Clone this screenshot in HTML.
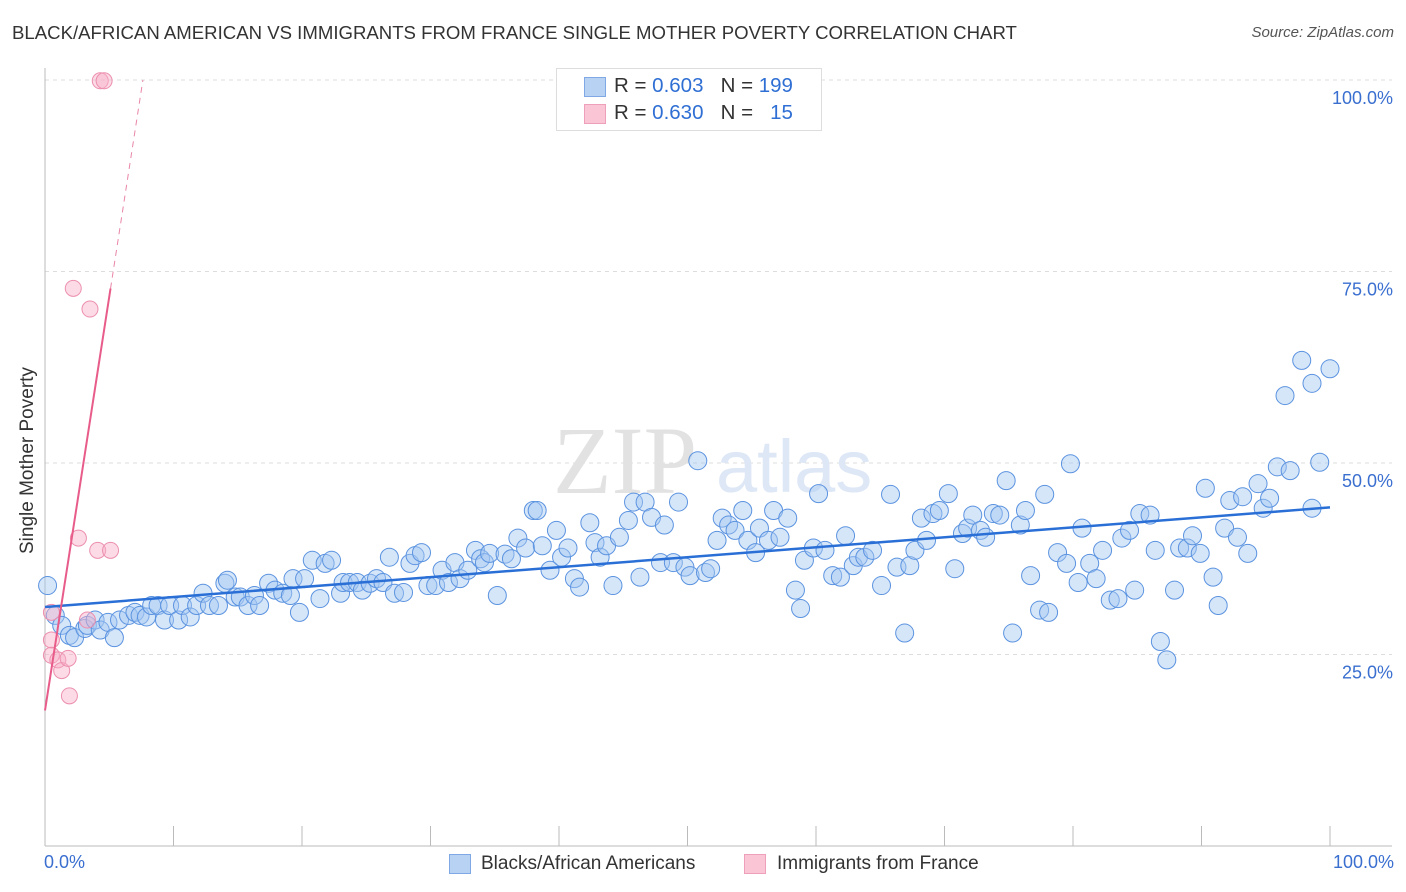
<!DOCTYPE html>
<html><head><meta charset="utf-8">
<style>
body{margin:0;background:#fff;font-family:"Liberation Sans",sans-serif;}
#wrap{position:relative;width:1406px;height:892px;overflow:hidden;}
.t{position:absolute;white-space:nowrap;}
</style></head>
<body>
<div id="wrap">
<div class="t" style="left:12px;top:22px;font-size:18.6px;color:#333;">BLACK/AFRICAN AMERICAN VS IMMIGRANTS FROM FRANCE SINGLE MOTHER POVERTY CORRELATION CHART</div>
<div class="t" style="right:12px;top:24px;font-size:15px;color:#555;font-style:italic;">Source: ZipAtlas.com</div>
<svg id="svg" width="1406" height="892" style="position:absolute;left:0;top:0"></svg>
</div>
<script>
const blueX=[0.2,0.8,1.3,1.9,2.3,3.1,3.3,3.9,4.3,4.9,5.4,5.8,6.5,7.0,7.4,7.9,8.3,8.8,9.3,9.7,10.4,10.7,11.3,11.8,12.3,12.8,13.5,14.0,14.2,14.8,15.2,15.8,16.3,16.7,17.4,17.9,18.5,19.1,19.3,19.8,20.2,20.8,21.4,21.8,22.3,23.0,23.2,23.7,24.3,24.7,25.3,25.8,26.3,26.8,27.2,27.9,28.4,28.8,29.3,29.8,30.4,30.9,31.4,31.9,32.3,32.9,33.5,33.9,34.2,34.6,35.2,35.8,36.3,36.8,37.4,38.0,38.3,38.7,39.3,39.8,40.2,40.7,41.2,41.6,42.4,42.8,43.2,43.7,44.2,44.7,45.4,45.8,46.3,46.7,47.2,47.9,48.2,48.9,49.3,49.8,50.2,50.8,51.4,51.8,52.3,52.7,53.2,53.7,54.3,54.7,55.3,55.6,56.3,56.7,57.2,57.8,58.4,58.8,59.1,59.8,60.2,60.7,61.3,61.9,62.3,62.9,63.3,63.8,64.4,65.1,65.8,66.3,66.9,67.3,67.7,68.2,68.6,69.1,69.6,70.3,70.8,71.4,71.8,72.2,72.8,73.2,73.8,74.3,74.8,75.3,75.9,76.3,76.7,77.4,78.1,77.8,78.8,79.5,79.8,80.4,80.7,81.3,81.8,82.3,82.9,83.5,83.8,84.4,84.8,85.2,86.0,86.4,86.8,87.3,87.9,88.3,88.9,89.3,89.9,90.3,90.9,91.3,91.8,92.2,92.8,93.2,93.6,94.4,94.8,95.3,95.9,96.5,96.9,97.8,98.6,99.2,100.0,98.6];
const blueY=[34.0,30.1,28.8,27.5,27.2,28.4,28.8,29.5,28.2,29.2,27.2,29.5,30.1,30.5,30.1,29.9,31.4,31.4,29.5,31.4,29.5,31.4,29.9,31.4,33.0,31.4,31.4,34.3,34.7,32.5,32.5,31.4,32.7,31.4,34.3,33.4,33.0,32.7,34.9,30.5,34.9,37.3,32.3,36.9,37.3,33.0,34.4,34.4,34.4,33.4,34.3,34.9,34.4,37.7,33.0,33.1,36.9,37.9,38.3,34.0,34.0,36.0,34.4,37.0,34.9,36.0,38.6,37.5,37.0,38.2,32.7,38.1,37.5,40.2,38.9,43.8,43.8,39.2,36.0,41.2,37.7,38.9,34.9,33.8,42.2,39.6,37.7,39.2,34.0,40.3,42.5,44.9,35.1,44.9,42.9,37.0,41.9,37.0,44.9,36.4,35.3,50.3,35.7,36.2,39.9,42.8,41.9,41.2,43.8,39.9,38.3,41.5,39.9,43.8,40.3,42.8,33.4,31.0,37.3,38.9,46.0,38.6,35.3,35.1,40.5,36.6,37.7,37.7,38.6,34.0,45.9,36.4,27.8,36.6,38.6,42.8,39.9,43.4,43.8,46.0,36.2,40.8,41.5,43.2,41.2,40.3,43.4,43.2,47.7,27.8,41.9,43.8,35.3,30.8,30.5,45.9,38.3,36.9,49.9,34.4,41.5,36.9,34.9,38.6,32.1,32.3,40.2,41.2,33.4,43.4,43.2,38.6,26.7,24.3,33.4,38.9,38.9,40.5,38.2,46.7,35.1,31.4,41.5,45.1,40.3,45.6,38.2,47.3,44.1,45.4,49.5,58.8,49.0,63.4,60.4,50.1,62.3,44.1];
const pinkX=[0.5,0.5,0.5,1.0,1.3,1.8,1.9,2.6,2.2,3.5,3.3,4.1,5.1,4.3,4.6];
const pinkY=[30.5,26.9,24.9,24.3,22.9,24.5,19.6,40.2,72.8,70.1,29.5,38.6,38.6,99.9,99.9];
const blueLine=[31.2,44.2]; // value at x=0 and x=100
const pinkLine=[17.7,10.8]; // intercept, slope
const yTicks=[25,50,75,100];
const yTickLabels=["25.0%","50.0%","75.0%","100.0%"];
const xTicks=[0,10,20,30,40,50,60,70,80,90,100];

const L=45,R=1330,T=80,B=846;
const sx=v=>L+(R-L)*v/100;
const sy=v=>B-(B-T)*v/100;
const svg=document.getElementById('svg');
const NS='http://www.w3.org/2000/svg';
function mk(tag,attrs,parent){const e=document.createElementNS(NS,tag);for(const k in attrs)e.setAttribute(k,attrs[k]);(parent||svg).appendChild(e);return e;}

yTicks.forEach((v,i)=>{
  const g=mk('line',{x1:L,x2:1392,y1:sy(v),y2:sy(v),stroke:'#ddd','stroke-dasharray':'4,4','stroke-width':1});
  
  
  const t=mk('text',{x:1393,y:sy(v)+24,'text-anchor':'end','font-size':18,fill:'#3a6fd0','font-family':'Liberation Sans, sans-serif'});
  t.textContent=yTickLabels[i];
  
  
});
const ya=mk('line',{x1:L,x2:L,y1:68,y2:B,stroke:'#bbb','stroke-width':1});


const xa=mk('line',{x1:L,x2:1392,y1:B,y2:B,stroke:'#bbb','stroke-width':1});


xTicks.forEach(v=>{
  const tk=mk('line',{x1:sx(v),x2:sx(v),y1:826,y2:B,stroke:'#bbb','stroke-width':1});
  
  
});
const w1=mk('text',{x:553,y:493,'font-size':96,fill:'#e2e2e2','font-family':'Liberation Serif, serif'});
w1.textContent='ZIP';


const w2=mk('text',{x:716,y:492,'font-size':74,fill:'#dde7f6','font-family':'Liberation Sans, sans-serif'});
w2.textContent='atlas';



blueX.forEach((x,i)=>{
  const c=mk('circle',{cx:sx(x),cy:sy(blueY[i]),r:9,fill:'rgba(165,200,242,0.45)',stroke:'#5b93e0','stroke-width':1});
  
  
});
pinkX.forEach((x,i)=>{
  const c=mk('circle',{cx:sx(x),cy:sy(pinkY[i]),r:8,fill:'rgba(248,176,200,0.45)',stroke:'#ec8fae','stroke-width':1});
  
  
});
const bl=mk('line',{x1:sx(0),y1:sy(blueLine[0]),x2:sx(100),y2:sy(blueLine[1]),stroke:'#2a6fd6','stroke-width':2.5});


const pf=x=>pinkLine[0]+pinkLine[1]*x;
const xEnd=(100-pinkLine[0])/pinkLine[1];
const ps=mk('line',{x1:sx(0),y1:sy(pf(0)),x2:sx(5.1),y2:sy(pf(5.1)),stroke:'#e85c8a','stroke-width':2});


const pd=mk('line',{x1:sx(5.1),y1:sy(pf(5.1)),x2:sx(xEnd),y2:sy(100),stroke:'#e985a8','stroke-width':1,'stroke-dasharray':'6,5'});


</script>
<div class="t" style="left:44px;top:852px;font-size:18px;color:#3a6fd0;">0.0%</div>
<div class="t" style="right:12px;top:852px;font-size:18px;color:#3a6fd0;">100.0%</div>
<div class="t" style="font-size:19px;color:#333;transform:rotate(-90deg);transform-origin:0 0;left:17px;top:554px;">Single Mother Poverty</div>

<div style="position:absolute;left:556px;top:68px;width:264px;height:61px;border:1px solid #ddd;background:#fff;">
  <div style="position:absolute;left:27px;top:8px;width:20px;height:18px;background:#b8d2f4;border:1px solid #7fa8e4;"></div>
  <div class="t" style="left:57px;top:5px;font-size:20.5px;color:#333;">R = <span style="color:#2f6fd4">0.603</span>&nbsp;&nbsp;&nbsp;N = <span style="color:#2f6fd4">199</span></div>
  <div style="position:absolute;left:27px;top:35px;width:20px;height:18px;background:#fac6d6;border:1px solid #eea0ba;"></div>
  <div class="t" style="left:57px;top:32px;font-size:20.5px;color:#333;">R = <span style="color:#2f6fd4">0.630</span>&nbsp;&nbsp;&nbsp;N = &nbsp;&nbsp;<span style="color:#2f6fd4">15</span></div>
</div>

<div style="position:absolute;left:449px;top:854px;width:20px;height:18px;background:#b8d2f4;border:1px solid #7fa8e4;"></div>
<div class="t" style="left:481px;top:853px;font-size:19px;color:#333;">Blacks/African Americans</div>
<div style="position:absolute;left:744px;top:854px;width:20px;height:18px;background:#fac6d6;border:1px solid #eea0ba;"></div>
<div class="t" style="left:777px;top:853px;font-size:19px;color:#333;">Immigrants from France</div>
</body></html>
